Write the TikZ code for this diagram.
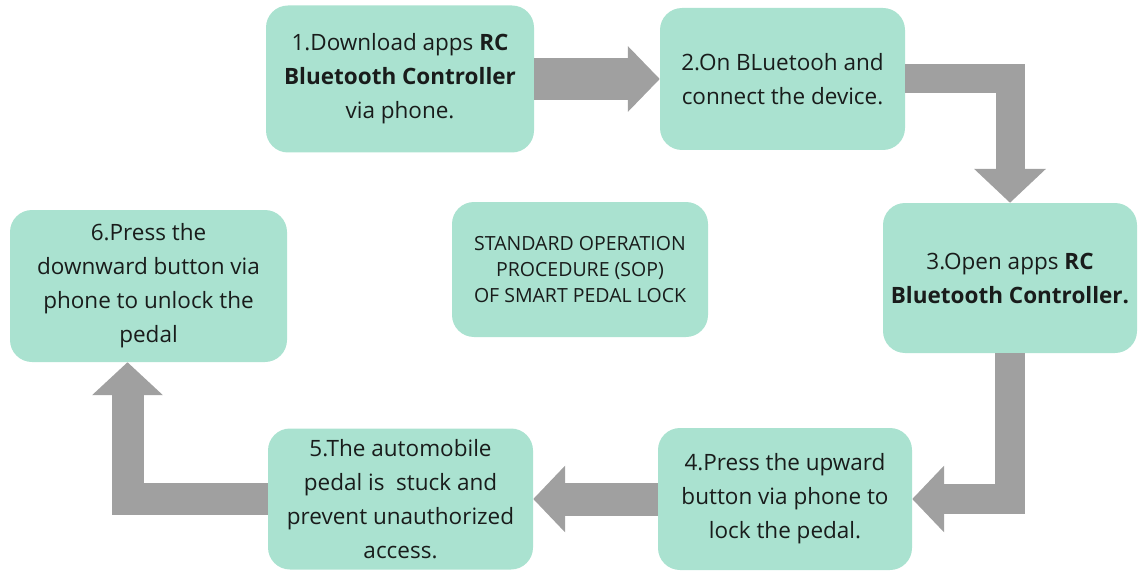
\documentclass[tikz,border=0pt]{standalone}
\usepackage{fontspec}
\setmainfont{Open Sans}
\usetikzlibrary{arrows.meta}
\definecolor{mint}{RGB}{170,226,208}
\definecolor{arrowgray}{RGB}{160,160,160}
\definecolor{txt}{RGB}{25,28,27}
\begin{document}
\begin{tikzpicture}[x=1pt,y=-1pt,
  stepbox/.style={fill=mint, rounded corners=22pt, draw=none, align=center, text=txt,
    font=\fontsize{22.5}{34}\selectfont, inner sep=0pt},
  fat/.style={draw=arrowgray, line width=#1, line join=miter},
]
\useasboundingbox (0,0) rectangle (1139,572);
\node[stepbox, minimum width=268pt, minimum height=147pt] (b1) at (400,79)
  {1.Download apps \textbf{RC}\\\textbf{Bluetooth Controller}\\via phone.};
\node[stepbox, minimum width=245pt, minimum height=142pt] (b2) at (782.5,79)
  {2.On BLuetooh and\\connect the device.};
\node[stepbox, minimum width=254pt, minimum height=150pt] (b3) at (1010,278)
  {3.Open apps \textbf{RC}\\\textbf{Bluetooth Controller.}};
\node[stepbox, minimum width=254pt, minimum height=142pt] (b4) at (785,499)
  {4.Press the upward\\button via phone to\\lock the pedal.};
\node[stepbox, minimum width=265pt, minimum height=141pt] (b5) at (400.5,499)
  {5.The automobile\\pedal is\ \ stuck and\\prevent unauthorized\\access.};
\node[stepbox, minimum width=277pt, minimum height=152pt] (b6) at (148.5,286)
  {6.Press the\\downward button via\\phone to unlock the\\pedal};
\node[stepbox, minimum width=256pt, minimum height=135pt,
  font=\fontsize{19.5}{26}\selectfont] (sop) at (580,269.5)
  {STANDARD OPERATION\\PROCEDURE (SOP)\\OF SMART PEDAL LOCK};

\draw[fat=42pt, -{Triangle[width=64pt,length=32pt]}] (b1.east) -- (b2.west);
\draw[fat=29pt, -{Triangle[width=70pt,length=34pt]}] (b2.east) -| (b3.north);
\draw[fat=30pt, -{Triangle[width=65pt,length=32pt]}] (b3.south) |- (b4.east);
\draw[fat=33pt, -{Triangle[width=65pt,length=32pt]}] (b4.west) -- (b5.east);
\draw[fat=32pt, -{Triangle[width=69pt,length=33pt]}] (b5.west) -| ([xshift=-21pt]b6.south);
\end{tikzpicture}
\end{document}
